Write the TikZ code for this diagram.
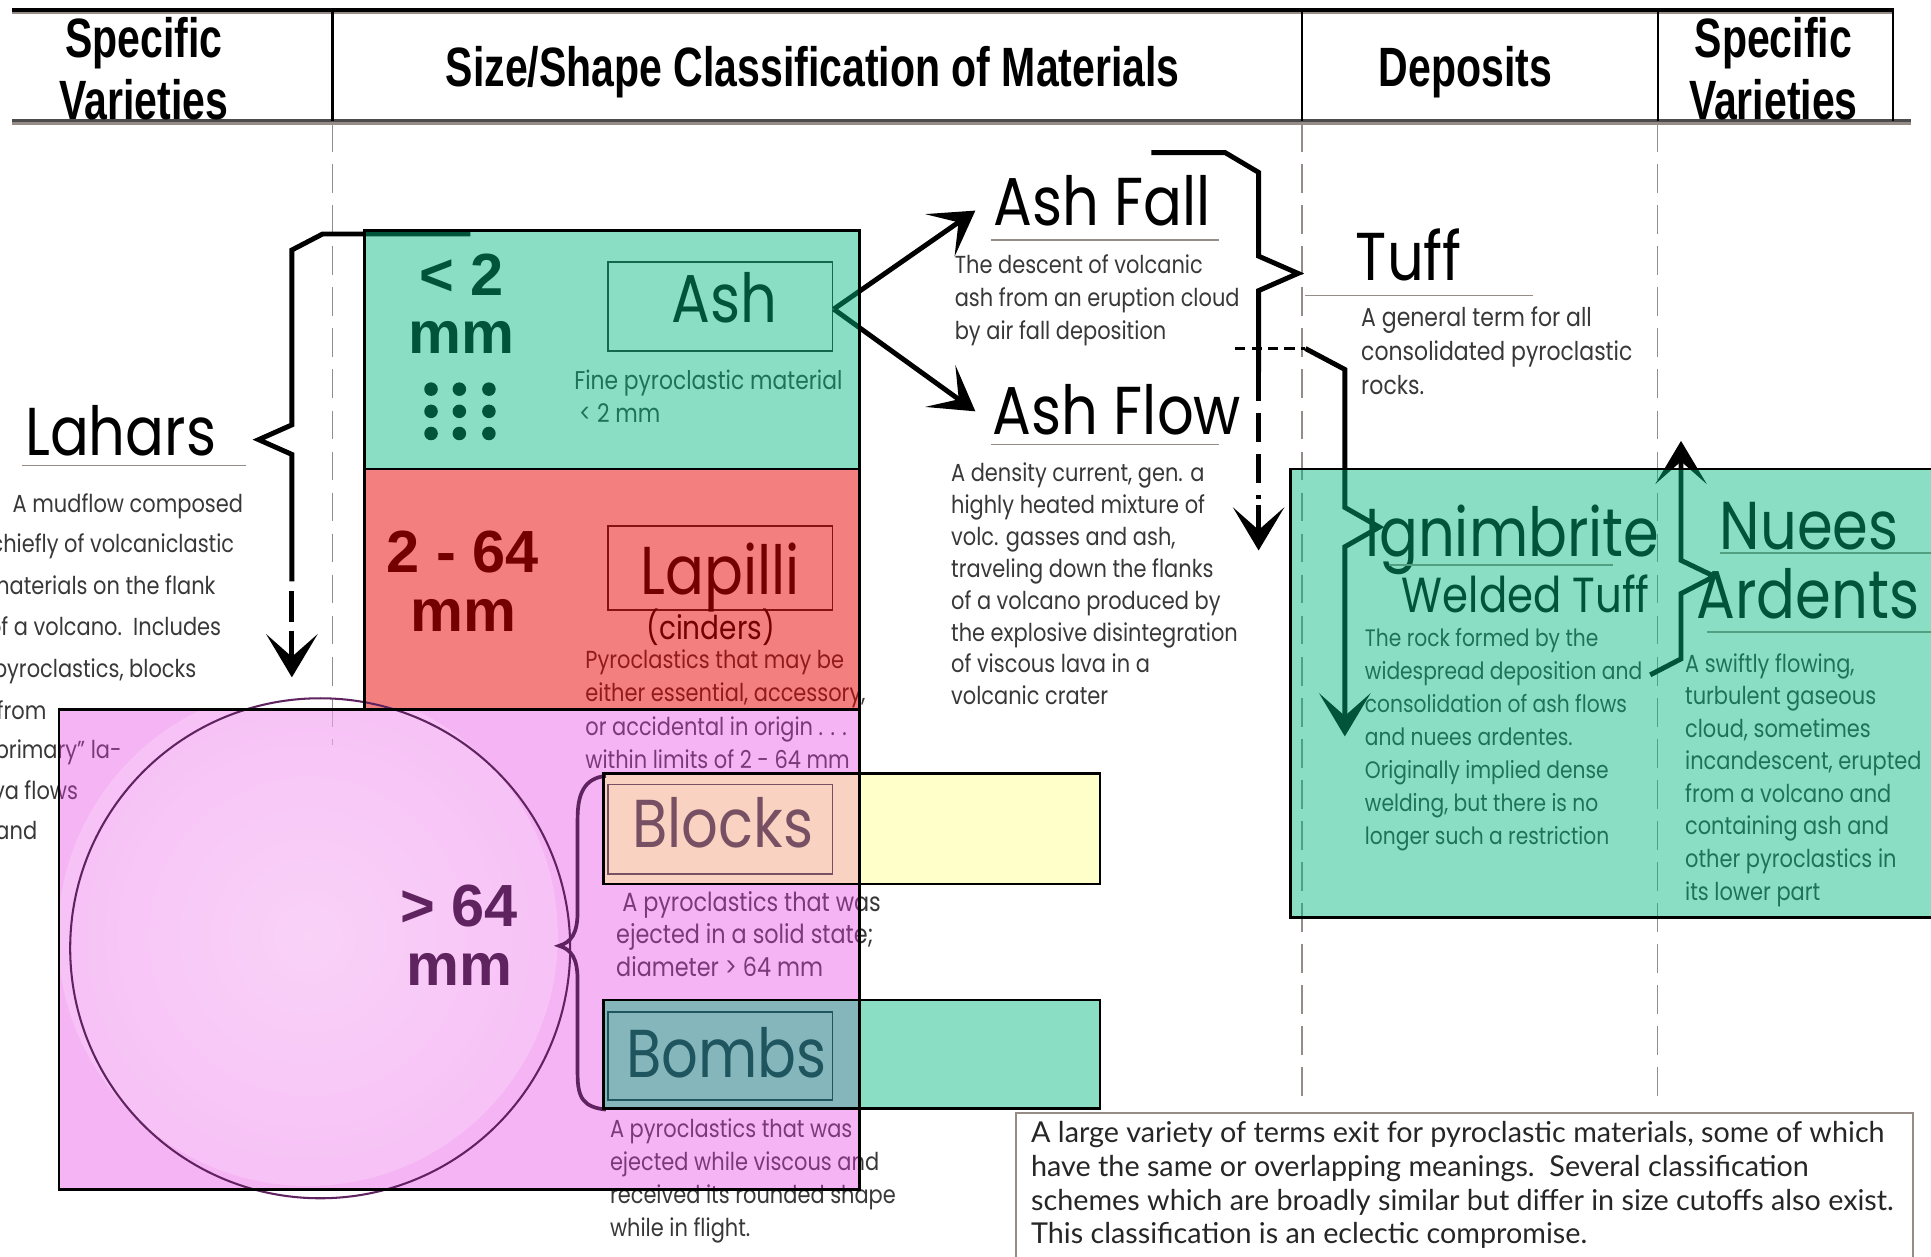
\documentclass[tikz,border=0pt]{standalone}
\usepackage{fontspec}
\setmainfont{Liberation Sans}
\newfontfamily\hdfont{Liberation Sans}[FakeStretch=0.74]
\newfontfamily\handfont{Poppins}[FakeStretch=0.85]
\newfontfamily\notefont{Lato}
\usetikzlibrary{arrows.meta}
\definecolor{mintC}{RGB}{0,185,125}
\definecolor{redC}{RGB}{235,0,0}
\definecolor{pinkC}{RGB}{230,60,225}
\definecolor{yelC}{RGB}{255,255,120}
\definecolor{guidegrey}{RGB}{150,140,135}
\definecolor{purp}{RGB}{95,35,95}
\definecolor{blockcol}{RGB}{120,80,100}
\definecolor{bombcol}{RGB}{30,85,95}
\tikzset{
  hd/.style={font=\hdfont\bfseries\fontsize{27}{30}\selectfont, inner sep=0, anchor=base},
  big/.style={font=\handfont\fontsize{33}{36}\selectfont, inner sep=0, anchor=base},
  desc/.style={font=\handfont\fontsize{12}{13}\selectfont, text=black!78, inner sep=0, anchor=base west},
  sizelab/.style={font=\bfseries\fontsize{29}{32}\selectfont, inner sep=0, anchor=base},
  uline/.style={draw=guidegrey, line width=0.8pt},
  guide/.style={draw=guidegrey, line width=0.8pt, dash pattern=on 14pt off 6pt},
  thickline/.style={line width=2.4pt},
  bigarrow/.style={line width=2.4pt, -{Stealth[length=21pt,width=25pt,inset=11pt]}},
  boxborder/.style={draw=black, line width=1.2pt},
  innerbox/.style={draw=black!85, line width=0.9pt},
}
\begin{document}
\begin{tikzpicture}[x=0.6pt,y=-0.6pt]
\useasboundingbox (0,0) rectangle (1568,1020);
\fill[white] (0,0) rectangle (1568,1020);

% ---------- header ----------
\draw[guidegrey, line width=1.4pt] (10,10.5) -- (1538,10.5);
\draw[black, line width=1.8pt] (10,8) -- (1538,8);
\draw[guidegrey, line width=1.6pt] (10,100) -- (1552,100);
\draw[black!70, line width=1.2pt] (10,98) -- (1552,98);
\foreach \xx in {270,1057,1346,1537} \draw[line width=1.1pt] (\xx,8) -- (\xx,98);
\node[hd] (h1a) at (117,47) {Specific};
\node[hd] (h1b) at (117,97) {Varieties};
\node[hd] (h2) at (660,70) {Size/Shape Classification of Materials};
\node[hd] (h3) at (1190,70) {Deposits};
\node[hd] (h4a) at (1440,47) {Specific};
\node[hd] (h4b) at (1440,97) {Varieties};

% ---------- guides ----------
\draw[guide] (270,100) -- (270,605);
\draw[guide] (1057,100) -- (1057,895);
\draw[guide] (1346,100) -- (1346,895);

% ---------- Lahars ----------
\node[big] (lahars) at (98,370) {Lahars};
\draw[uline] (18,378) -- (200,378);
\begin{scope}[every node/.append style={font=\handfont\fontsize{11.2}{13}\selectfont}]
\node[desc] (lah1) at (10,416) {A mudflow composed};
\node[desc] (lah2) at (-8,449) {chiefly of volcaniclastic};
\node[desc] (lah3) at (-10,483) {materials on the flank};
\node[desc] (lah4) at (-10,516) {of a volcano.\ \ Includes};
\node[desc] (lah5) at (-6,550) {pyroclastics, blocks};
\node[desc] (lah6) at (-3,584) {from};
\node[desc] (lah7) at (-11,616) {“primary” la-};
\node[desc] (lah8) at (-6,649) {va flows};
\node[desc] (lah9) at (-4,682) {and};
\end{scope}

% ---------- size column ----------
\node[sizelab] (s1a) at (375,240) {< 2};
\node[sizelab] (s1b) at (375,287) {mm};
\foreach \xx in {350,373,397} \foreach \yy in {316,334,352} \fill (\xx,\yy) circle (5.5);
\node[sizelab] (s2a) at (376,465) {2 - 64};
\node[sizelab] (s2b) at (376,513) {mm};

% Ash
\draw[innerbox] (494,213) rectangle (676,285);
\node[big] (ash) at (588,262) {Ash};
\node[desc, font=\handfont\fontsize{12.5}{14}\selectfont] (fine1) at (466,316) {Fine pyroclastic material};
\node[desc, font=\handfont\fontsize{12.5}{14}\selectfont] (fine2) at (470,343) {< 2 mm};
% Lapilli
\draw[innerbox] (494,427) rectangle (676,495);
\node[big] (lapilli) at (585,483) {Lapilli};
\node[font=\handfont\fontsize{16}{18}\selectfont, inner sep=0, anchor=base] (cinders) at (577,519) {(cinders)};
\foreach \t [count=\i] in {Pyroclastics that may be, {either essential, accessory,}, or accidental in origin . . ., within limits of 2 - 64 mm}
  \node[desc] (lap\i) at (475,{543+(\i-1)*27}) {\t};
% Blocks / Bombs descriptions
\node[desc, font=\handfont\fontsize{12.8}{14}\selectfont] (bl1) at (505,740) {A pyroclastics that was};
\node[desc, font=\handfont\fontsize{12.8}{14}\selectfont] (bl2) at (500,766) {ejected in a solid state;};
\node[desc, font=\handfont\fontsize{12.8}{14}\selectfont] (bl3) at (500,793) {diameter > 64 mm};
\foreach \t [count=\i] in {A pyroclastics that was, ejected while viscous and, received its rounded shape, while in flight.}
  \node[desc] (bo\i) at (495,{924+(\i-1)*26.7}) {\t};

% ---------- Ash Fall / Ash Flow ----------
\node[big] (ashfall) at (895,183) {Ash Fall};
\draw[uline] (805,195) -- (990,195);
\foreach \t [count=\i] in {The descent of volcanic, ash from an eruption cloud, by air fall deposition}
  \node[desc] (af\i) at (775,{222+(\i-1)*27}) {\t};
\node[big] (ashflow) at (907,353) {Ash Flow};
\draw[uline] (805,361) -- (990,361);
\foreach \t [count=\i] in {{A density current, gen. a}, highly heated mixture of, {volc. gasses and ash,}, traveling down the flanks, of a volcano produced by, the explosive disintegration, of viscous lava in a, volcanic crater}
  \node[desc] (afl\i) at (772,{391+(\i-1)*25.9}) {\t};

% ---------- Tuff ----------
\node[big] (tuff) at (1144,228) {Tuff};
\draw[uline] (1060,240) -- (1245,240);
\foreach \t [count=\i] in {A general term for all, consolidated pyroclastic, rocks.}
  \node[desc, font=\handfont\fontsize{12.6}{14}\selectfont] (tu\i) at (1105,{265+(\i-1)*27.5}) {\t};

% ---------- Ignimbrite ----------
\node[big] (ign) at (1228,452) {Ignimbrite};
\draw[uline] (1128,459) -- (1310,459);
\node[font=\handfont\fontsize{24}{26}\selectfont, inner sep=0, anchor=base] (welded) at (1239,497) {Welded Tuff};
\foreach \t [count=\i] in {The rock formed by the, widespread deposition and, consolidation of ash flows, and nuees ardentes., Originally implied dense, {welding, but there is no}, longer such a restriction}
  \node[desc, font=\handfont\fontsize{11.6}{13}\selectfont] (ig\i) at (1108,{525+(\i-1)*26.8}) {\t};

% ---------- Nuees Ardents ----------
\node[big] (nuees) at (1469,446) {Nuees};
\draw[uline] (1397,449) -- (1568,449);
\node[big] (ardents) at (1468,502) {Ardents};
\draw[uline] (1386,513) -- (1568,513);
\foreach \t [count=\i] in {{A swiftly flowing,}, turbulent gaseous, {cloud, sometimes}, {incandescent, erupted}, from a volcano and, containing ash and, other pyroclastics in, its lower part}
  \node[desc] (nu\i) at (1368,{546+(\i-1)*26.4}) {\t};

% ---------- connectors ----------
\coordinate (lahTop) at (382,190);
\draw[thickline] (lahTop) -- (262,190) -- (237,203) -- (237,345) -- (210,357) -- (237,369) -- (237,472);
\draw[thickline] (237,480) -- (237,505);
\draw[bigarrow] (237,512) -- (237,550);

\coordinate (ashR) at (677,251);
\draw[bigarrow] (ashR) -- (792,171);
\draw[bigarrow] (ashR) -- (792,334);

\draw[thickline] (935,124) -- (995,124) -- (1022,140) -- (1022,208) -- (1054,222) -- (1022,236) -- (1022,302);
\draw[thickline, dash pattern=on 14pt off 6pt] (1022,302) -- (1022,405);
\draw[bigarrow] (1022,410) -- (1022,447);

\draw[line width=1.6pt, dash pattern=on 5pt off 3pt] (1003,283) -- (1060,283);
\draw[bigarrow] (1060,283) -- (1092,300) -- (1092,412) -- (1120,428) -- (1092,444) -- (1092,598);

\draw[bigarrow] (1340,548) -- (1365,535) -- (1365,482) -- (1392,468) -- (1365,455) -- (1365,358);

% ---------- coloured overlays ----------
\fill[mintC, opacity=0.46] (296,187) rectangle (698,381);
\fill[redC, opacity=0.5] (296,381) rectangle (698,576);
\fill[pinkC, opacity=0.38] (48,576) rectangle (698,966);
\begin{scope}
  \clip (48,576) rectangle (698,966);
  \shade[opacity=0.4, inner color=white, outer color={rgb,255:red,252;green,215;blue,252}] (250,760) circle (203);
\end{scope}
\draw[purp, line width=1pt] (260,770) circle (203);
\node[sizelab, text=purp] (s3a) at (373,752) {> 64};
\node[sizelab, text=purp] (s3b) at (373,800) {mm};
\fill[yelC, opacity=0.4] (490,628) rectangle (893,718);
\fill[mintC, opacity=0.46] (490,812) rectangle (893,900);
\fill[mintC, opacity=0.46] (1048,381) rectangle (1580,745);

% Blocks / Bombs labels
\draw[blockcol, line width=0.9pt] (494,637) rectangle (676,710);
\node[big, text=blockcol] (blocks) at (587,688) {Blocks};
\draw[bombcol, line width=0.9pt] (494,822) rectangle (676,893);
\node[big, text=bombcol] (bombs) at (590,875) {Bombs};
% brace for blocks / bombs
\draw[purp, line width=1.8pt] (492,630) .. controls (474,632) and (469,645) .. (469,665) -- (469,740)
  .. controls (469,758) and (464,765) .. (454,768) .. controls (464,771) and (469,778) .. (469,796)
  -- (469,872) .. controls (469,892) and (474,899) .. (492,901);

% ---------- borders ----------
\draw[boxborder] (296,187) rectangle (698,381);
\draw[boxborder] (296,381) rectangle (698,576);
\draw[boxborder] (48,576) rectangle (698,966);
\draw[boxborder] (490,628) rectangle (893,718);
\draw[boxborder] (490,812) rectangle (893,900);
\draw[boxborder] (1580,381) -- (1048,381) -- (1048,745) -- (1580,745);

% ---------- note ----------
\draw[guidegrey, line width=1pt] (825,1030) -- (825,904) -- (1553,904) -- (1553,1030);
\foreach \t [count=\i] in {{A large variety of terms exit for pyroclastic materials, some of which}, have the same or overlapping meanings.\ \ Several classification, schemes which are broadly similar but differ in size cutoffs also exist., This classification is an eclectic compromise.}
  \node[font=\notefont\fontsize{14}{16}\selectfont, inner sep=0, anchor=base west, text=black!85] (note\i) at (837,{928+(\i-1)*27.3}) {\t};
\end{tikzpicture}
\end{document}
